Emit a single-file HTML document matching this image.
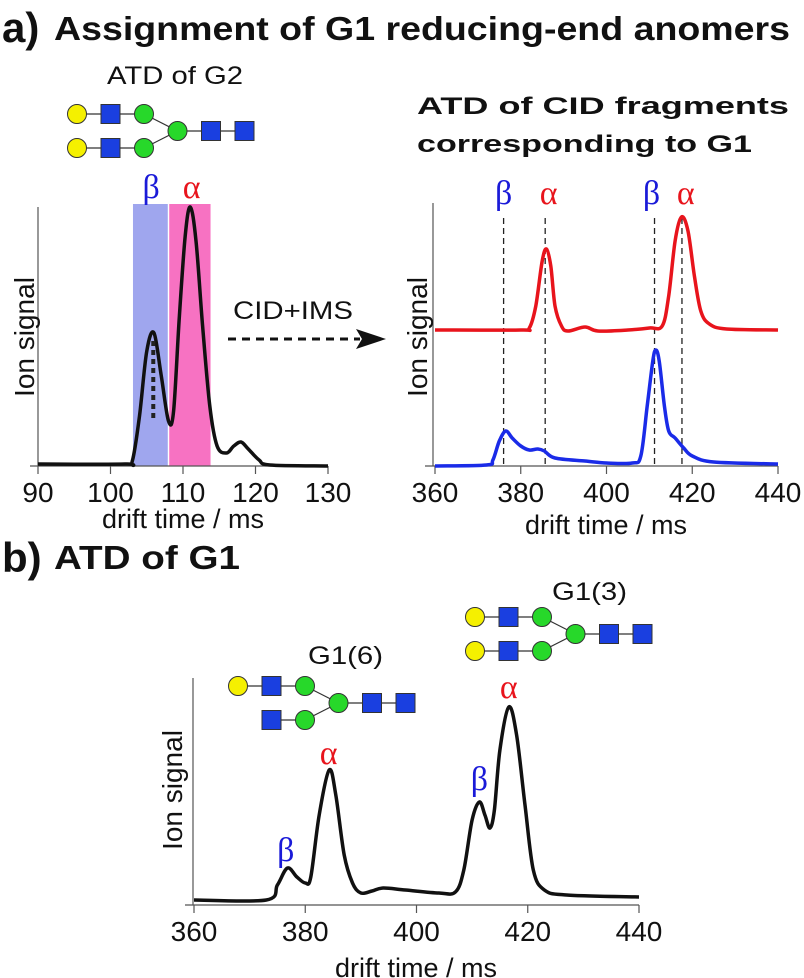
<!DOCTYPE html>
<html><head><meta charset="utf-8"><style>
body{margin:0;background:#fff;}
svg{display:block;font-family:"Liberation Sans",sans-serif;}
</style></head><body>
<svg id="fig" width="804" height="978" viewBox="0 0 804 978">
</svg>
<script>
// ---- data ----
const leftX = [90,102,103,104,105,106,107,108,108.7,109.5,110.3,111,111.8,112.7,113.7,114.7,116,117,118,119,120.5,122,130];
const leftY = [2,2,5,50,115,133,90,45,55,150,230,259,225,140,60,20,13,20,24,17,6,1,0];
const leftTicks = [90,100,110,120,130];
const redX = [360,380,382,383.5,385,386,387,388,389.5,391,395,398,405,410,413,414.5,416,417.5,419,420.5,422,424,428,440];
const redY = [136,136,138,160,205,217,200,160,140,135,139,135,136,138,140,170,225,249,235,190,155,142,137,136];
const blueX = [360,372,373.5,375,376.5,378,380,382,384,385.5,388,395,400,406,408,409.5,410.8,411.5,412.3,413.5,414.5,416,418,420,425,440];
const blueY = [0,1,6,25,35,28,20,16,17,15,8,5,3,3,10,60,105,116,105,60,35,28,18,10,4,2];
const dashX = [376,385.7,411.2,417.6];
const bottomX = [360,373,375,376.8,378.5,380,381,382.5,384.3,385.5,387,388.5,390,392,394,398,404,407,408.5,410,411.3,412.3,413.2,414,415,416.6,418,419.5,421,423,427,440];
const bottomY = [5,5,20,37,28,22,28,90,135,110,50,22,12,14,17,15,12,13,35,85,103,90,77,95,155,198,170,100,35,15,10,8];
const rightTicks = [360,380,400,420,440];

const NS="http://www.w3.org/2000/svg";
const svg=document.getElementById('fig');
function el(tag,attrs,parent,text){const e=document.createElementNS(NS,tag);for(const k in attrs)e.setAttribute(k,attrs[k]);if(text!==undefined)e.textContent=text;(parent||svg).appendChild(e);return e;}
function lin(d0,d1,r0,r1){return v=>r0+(v-d0)*(r1-r0)/(d1-d0);}
function smooth(pts){let d=`M${pts[0][0]},${pts[0][1]}`;for(let i=0;i<pts.length-1;i++){const p0=pts[i-1]||pts[i],p1=pts[i],p2=pts[i+1],p3=pts[i+2]||p2;const c1=[p1[0]+(p2[0]-p0[0])/6,p1[1]+(p2[1]-p0[1])/6],c2=[p2[0]-(p3[0]-p1[0])/6,p2[1]-(p3[1]-p1[1])/6];d+=`C${c1[0].toFixed(1)},${c1[1].toFixed(1)} ${c2[0].toFixed(1)},${c2[1].toFixed(1)} ${p2[0].toFixed(1)},${p2[1].toFixed(1)}`;}return d;}

function axes(x0,x1,yTop,yAxis,ticks,xs,name){
  const g=el('g',{});
  
  
  el('line',{x1:x0,y1:yTop,x2:x0,y2:yAxis,stroke:'#555','stroke-width':1.2},g);
  el('line',{x1:x0-8,y1:yAxis,x2:x1,y2:yAxis,stroke:'#555','stroke-width':1.2},g);
  ticks.forEach(t=>{
    el('line',{x1:xs(t),y1:yAxis,x2:xs(t),y2:yAxis+8,stroke:'#555','stroke-width':1.2},g);
    const tx=el('text',{x:xs(t),y:yAxis+36,'font-size':28,'text-anchor':'middle',fill:'#111'},g,String(t));
    
    
  });
  return g;
}
function label(x,y,txt,size,attrs,name){const t=el('text',Object.assign({x:x,y:y,'font-size':size,fill:'#111'},attrs||{}),svg,txt);return t;}
function greek(x,y,ch,color,name){const t=el('text',{x:x,y:y,'font-size':34,'text-anchor':'middle',fill:color,'font-family':'Liberation Serif, serif'},svg,ch);}

// ---- titles ----
label(2,42,'a)',42,{'font-weight':'bold'},'panel-a-label');
label(54,40,'Assignment of G1 reducing-end anomers',33,{'font-weight':'bold',textLength:736,lengthAdjust:'spacingAndGlyphs'},'panel-a-title');
label(2,572,'b)',42,{'font-weight':'bold'},'panel-b-label');
label(54,569,'ATD of G1',33,{'font-weight':'bold',textLength:186,lengthAdjust:'spacingAndGlyphs'},'panel-b-title');
label(107,84,'ATD of G2',25,{textLength:136,lengthAdjust:'spacingAndGlyphs'},'g2-title');
label(417,114,'ATD of CID fragments',24,{'font-weight':'bold',textLength:372,lengthAdjust:'spacingAndGlyphs'},'cid-title-line1');
label(417,152,'corresponding to G1',24,{'font-weight':'bold',textLength:335,lengthAdjust:'spacingAndGlyphs'},'cid-title-line2');

// ---- left plot ----
const lx=lin(90,130,38,328), ly=lin(0,259,466,207);
const bandB=el('rect',{x:lx(103.1),y:204,width:lx(107.9)-lx(103.1),height:262,fill:'#9fa6ee'});

const bandA=el('rect',{x:lx(108.1),y:204,width:lx(113.8)-lx(108.1),height:262,fill:'#f772c2'});

axes(38,328,207,466,leftTicks,lx,'left');
const lp=el('path',{d:smooth(leftX.map((x,i)=>[lx(x),ly(leftY[i])])),fill:'none',stroke:'#111','stroke-width':3.5});

el('line',{x1:lx(105.9),y1:ly(125),x2:lx(105.9),y2:ly(45),stroke:'#222','stroke-width':4,'stroke-dasharray':'5 4'});
greek(lx(105.6),198,'β','#1a1ad8','beta-label-left');
greek(lx(111.2),198,'α','#e8141c','alpha-label-left');
label(34,337,'Ion signal',28,{transform:'rotate(-90 34 337)','text-anchor':'middle'},'y-axis-title-left');
label(183,528,'drift time / ms',27,{'text-anchor':'middle'},'x-axis-title-left');
label(233,319,'CID+IMS',25,{textLength:120,lengthAdjust:'spacingAndGlyphs'},'cid-ims-label');
el('line',{x1:228,y1:339,x2:360,y2:339,stroke:'#111','stroke-width':3,'stroke-dasharray':'8 6'});
el('path',{d:'M356,329 L386,339 L356,349 L362,339 Z',fill:'#111'});

// ---- right plot ----
const rx=lin(360,440,435,778), ry=lin(0,250,466,216);
axes(433,778,203,466,rightTicks,rx,'right');
dashX.forEach(d=>{const l=el('line',{x1:rx(d),y1:218,x2:rx(d),y2:466,stroke:'#222','stroke-width':1.3,'stroke-dasharray':'6 4'});});
const rp=el('path',{d:smooth(redX.map((x,i)=>[rx(x),ry(redY[i])])),fill:'none',stroke:'#e8141c','stroke-width':3.5});

const bp=el('path',{d:smooth(blueX.map((x,i)=>[rx(x),ry(blueY[i])])),fill:'none',stroke:'#1a2be8','stroke-width':3.5});

greek(rx(376),204,'β','#1a1ad8','beta-label-r1');
greek(rx(386.5),204,'α','#e8141c','alpha-label-r1');
greek(rx(410.5),204,'β','#1a1ad8','beta-label-r2');
greek(rx(418.5),204,'α','#e8141c','alpha-label-r2');
label(427,337,'Ion signal',28,{transform:'rotate(-90 427 337)','text-anchor':'middle'},'y-axis-title-right');
label(606,534,'drift time / ms',27,{'text-anchor':'middle'},'x-axis-title-right');

// ---- bottom plot ----
const bx=lin(360,440,194,639), by=lin(0,198,905,707);
axes(193,639,678,905,rightTicks,bx,'bottom');
const bt=el('path',{d:smooth(bottomX.map((x,i)=>[bx(x),by(bottomY[i])])),fill:'none',stroke:'#111','stroke-width':3.5});

greek(bx(376.5),861,'β','#1a1ad8','beta-label-b1');
greek(bx(384.2),764,'α','#e8141c','alpha-label-b1');
greek(bx(411.3),790,'β','#1a1ad8','beta-label-b2');
greek(bx(416.6),698,'α','#e8141c','alpha-label-b2');
label(182,790,'Ion signal',28,{transform:'rotate(-90 182 790)','text-anchor':'middle'},'y-axis-title-bottom');
label(416,977,'drift time / ms',27,{'text-anchor':'middle'},'x-axis-title-bottom');
label(308,664,'G1(6)',25,{textLength:75,lengthAdjust:'spacingAndGlyphs'},'g1-6-label');
label(552,600,'G1(3)',25,{textLength:75,lengthAdjust:'spacingAndGlyphs'},'g1-3-label');

// ---- glycans ----
function glycan(ox,oy,name,opts){
  const g=el('g',{});
  
  
  const dy=17,S=33.5;
  const yT=oy-dy,yB=oy+dy;
  const C=(x,y,c)=>el('circle',{cx:x,cy:y,r:9.5,fill:c,stroke:'#333','stroke-width':1},g);
  const Q=(x,y)=>el('rect',{x:x-9.5,y:y-9.5,width:19,height:19,fill:'#1a3fe0',stroke:'#333','stroke-width':1},g);
  const L=(a,b,c,d)=>el('line',{x1:a,y1:b,x2:c,y2:d,stroke:'#333','stroke-width':1.2},g);
  const x0=ox;
  L(x0+2*S,yT,x0+3*S,oy);L(x0+2*S,yB,x0+3*S,oy);L(x0+3*S,oy,x0+5*S,oy);
  if(opts.galT){L(x0,yT,x0+2*S,yT);}else L(x0+S,yT,x0+2*S,yT);
  if(opts.galB){L(x0,yB,x0+2*S,yB);}else L(x0+S,yB,x0+2*S,yB);
  if(opts.galT)C(x0,yT,'#f5f000');
  if(opts.galB)C(x0,yB,'#f5f000');
  Q(x0+S,yT);Q(x0+S,yB);
  C(x0+2*S,yT,'#27d82a');C(x0+2*S,yB,'#27d82a');
  C(x0+3*S,oy,'#27d82a');
  Q(x0+4*S,oy);Q(x0+5*S,oy);
}
glycan(77,131,'g2-glycan',{galT:true,galB:true});
glycan(238,703,'g1-6-glycan',{galT:true,galB:false});
glycan(475,634,'g1-3-glycan',{galT:true,galB:true});
</script>
</body></html>
